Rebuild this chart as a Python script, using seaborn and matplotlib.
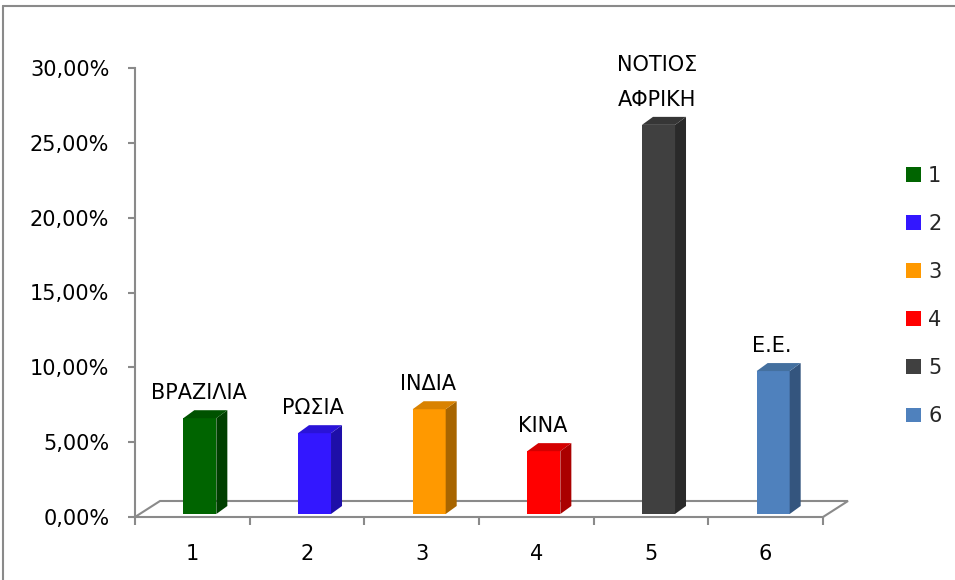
import matplotlib
matplotlib.use("Agg")
import matplotlib.pyplot as plt
import matplotlib.transforms as mtransforms
from matplotlib.patches import Polygon, Rectangle
from matplotlib.lines import Line2D
from matplotlib.ticker import FuncFormatter, FixedLocator
import seaborn as sns
import pandas as pd

# ---- data ----
categories = ["1", "2", "3", "4", "5", "6"]
country_labels = ["ΒΡΑΖΙΛΙΑ", "ΡΩΣΙΑ", "ΙΝΔΙΑ", "ΚΙΝΑ", "ΝΟΤΙΟΣ\nΑΦΡΙΚΗ", "Ε.Ε."]
values = [0.064, 0.054, 0.070, 0.042, 0.260, 0.0955]
yticks = [0.0, 0.05, 0.10, 0.15, 0.20, 0.25, 0.30]

front_colors = ["#006400", "#3317FF", "#FF9900", "#FF0000", "#404040", "#4F81BD"]
side_colors = ["#003F00", "#1E0FA8", "#A86500", "#AA0000", "#2A2A2A", "#34557E"]
top_colors = ["#005200", "#2A13D8", "#D98200", "#D40000", "#363636", "#44709F"]

sns.set_theme(style="white")
plt.rcParams["font.family"] = ["DejaVu Sans"]

W, H = 955, 580
fig = plt.figure(figsize=(W / 100, H / 100), dpi=100)
ax_l, ax_r, ax_b, ax_t = 135, 823, 63, 512
ax = fig.add_axes([ax_l / W, ax_b / H, (ax_r - ax_l) / W, (ax_t - ax_b) / H])

df = pd.DataFrame({"cat": categories, "val": values})
bw = 0.288
sns.barplot(data=df, x="cat", y="val", hue="cat", palette=front_colors,
            width=bw, saturation=1, legend=False, ax=ax, linewidth=0, zorder=3)
ax.set_xlim(-0.5, 5.5)
ax.set_ylim(0, 0.30)

px_x = (ax_r - ax_l) / 6.0
px_y = (ax_t - ax_b) / 0.30
gray = "#8A8A8A"

# 3D offset of bars
shift = mtransforms.ScaledTranslation(7.5 / 100, 3 / 100, fig.dpi_scale_trans)
tr = ax.transData + shift
bars = list(ax.patches)[:len(values)]
for b in bars:
    b.set_transform(tr)
    b.set_clip_on(False)

ddx, ddy = 11 / px_x, 8 / px_y
for i, b in enumerate(bars):
    x0 = b.get_x()
    x1 = x0 + b.get_width()
    h = b.get_height()
    side = Polygon([(x1, 0), (x1 + ddx, ddy), (x1 + ddx, h + ddy), (x1, h)],
                   closed=True, facecolor=side_colors[i], edgecolor="none",
                   transform=tr, clip_on=False, zorder=3)
    top = Polygon([(x0, h), (x0 + ddx, h + ddy), (x1 + ddx, h + ddy), (x1, h)],
                  closed=True, facecolor=top_colors[i], edgecolor="none",
                  transform=tr, clip_on=False, zorder=3)
    ax.add_patch(side)
    ax.add_patch(top)
    ax.annotate(country_labels[i], xy=(x0 + b.get_width() / 2, h), xycoords="data",
                xytext=(4.5, 13), textcoords="offset points", ha="center", va="bottom",
                fontsize=15, linespacing=1.9, multialignment="center", color="black",
                annotation_clip=False)

# floor
fdx, fdy = 25 / px_x, 16 / px_y
ax.plot([-0.5, -0.5 + fdx, 5.5 + fdx, 5.5], [0, fdy, fdy, 0], color=gray, lw=1.5,
        clip_on=False, zorder=1, solid_joinstyle="miter")

for s in ["top", "right"]:
    ax.spines[s].set_visible(False)
for s in ["left", "bottom"]:
    ax.spines[s].set_color(gray)
    ax.spines[s].set_linewidth(1.5)

ax.set_yticks(yticks)
ax.yaxis.set_major_formatter(FuncFormatter(lambda v, p: f"{v*100:.2f}%".replace(".", ",")))
ax.tick_params(axis="y", which="major", left=True, length=5, width=1.5, color=gray,
               pad=13.5, labelsize=15, labelcolor="black", direction="out")
ax.set_xticks(range(len(categories)))
ax.set_xticklabels(categories)
ax.xaxis.set_minor_locator(FixedLocator([i - 0.5 for i in range(len(categories) + 1)]))
ax.tick_params(axis="x", which="major", bottom=True, length=0, pad=19.5, labelsize=15,
               labelcolor="black")
ax.tick_params(axis="x", which="minor", bottom=True, length=6, width=1.5, color=gray,
               direction="out")
ax.set_xlabel("")
ax.set_ylabel("")

# legend
handles = [Rectangle((0, 0), 1, 1, facecolor=c, edgecolor="none") for c in front_colors]
fig.legend(handles, categories, loc="center left", bbox_to_anchor=(906 / W, 1 - 296 / H),
           frameon=False, fontsize=15, handlelength=0.72, handleheight=0.72,
           handletextpad=0.34, labelspacing=1.35, borderpad=0, borderaxespad=0)

# outer border
fig.add_artist(Line2D([3 / W, 3 / W], [0, 1 - 6 / H], color=gray, lw=1.5,
                      transform=fig.transFigure))
fig.add_artist(Line2D([3 / W, 1], [1 - 6 / H, 1 - 6 / H], color=gray, lw=1.5,
                      transform=fig.transFigure))

fig.savefig("out.png", dpi=100)
